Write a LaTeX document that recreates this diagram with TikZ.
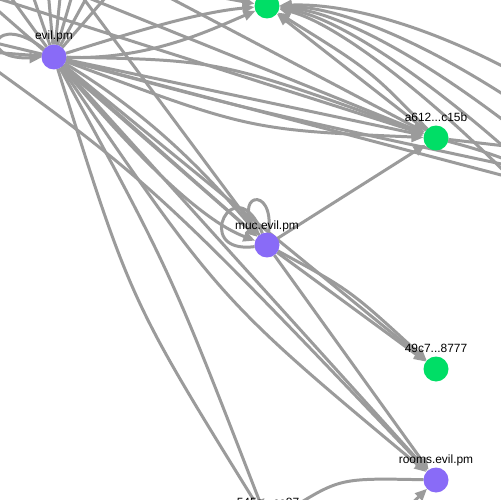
\documentclass[tikz,border=0pt]{standalone}
\usepackage{fontspec}
\setmainfont{Liberation Sans}
\usetikzlibrary{arrows.meta,backgrounds}
\definecolor{edgegray}{RGB}{155,155,155}
\definecolor{vpurple}{RGB}{137,107,247}
\definecolor{vgreen}{RGB}{0,222,102}
\begin{document}
\begin{tikzpicture}[x=0.02cm,y=-0.02cm,
  edge/.style={draw=edgegray,line width=1.7pt},
  arr/.style={edge,-{Triangle[length=0.24cm,width=0.2cm]}},
  vnode/.style={circle,minimum size=0.5cm,inner sep=0pt,outer sep=0pt},
  pnode/.style={vnode,fill=vpurple},
  gnode/.style={vnode,fill=vgreen},
  lbl/.style={font=\fontsize{6.8}{8}\selectfont,inner sep=0pt,anchor=base}]
\useasboundingbox (0,0) rectangle (500,500);
% nodes
\node[pnode] (E) at (54,57) {};
\node[gnode] (G) at (267,6) {};
\node[gnode] (A) at (436,138) {};
\node[pnode] (M) at (267,245) {};
\node[gnode] (B) at (436,369) {};
\node[pnode] (R) at (436,480) {};
\node[gnode] (S) at (268,523) {};
\node[lbl] (El) at (54,40) {evil.pm};
\node[lbl] (Al) at (436,121) {a612...c15b};
\node[lbl] (Ml) at (267,229) {muc.evil.pm};
\node[lbl] (Bl) at (436,352) {49c7...8777};
\node[lbl] (Rl) at (436,463) {rooms.evil.pm};
\node[lbl] (Sl) at (268,506) {545a...ce87};
% off-picture ends
\coordinate (t1) at (-60,-100);
\coordinate (t2) at (0,-100);
\coordinate (t3) at (40,-100);
\coordinate (t4) at (70,-100);
\coordinate (t5) at (100,-100);
\coordinate (t6) at (140,-100);
\coordinate (t7) at (190,-100);
\coordinate (l1) at (-100,20);
\coordinate (l2) at (-100,45);
\coordinate (xa) at (-60,-40);
\coordinate (xb) at (-60,30);
\coordinate (tm) at (40,-60);
\coordinate (ta1) at (60,-60);
\coordinate (ta2) at (-60,-62);
\coordinate (ta3) at (-60,-20);
\coordinate (tg1) at (100,-40);
\coordinate (r1) at (620,140);
\coordinate (r2) at (620,180);
\coordinate (r3) at (620,220);
\coordinate (r9) at (620,260);
\coordinate (r10) at (620,300);
\coordinate (r4) at (540,150);
\coordinate (r5) at (540,172);
\coordinate (r6) at (520,168);
\coordinate (r7) at (520,180);
\begin{scope}[on background layer]
\fill[white] (0,0) rectangle (500,500);
% edges to nodes outside, from evil.pm
\draw[edge] (E) -- (t1);
\draw[edge] (E) -- (t2);
\draw[edge] (E) -- (t3);
\draw[edge] (E) -- (t4);
\draw[edge] (E) -- (t5);
\draw[edge] (E) -- (t6);
\draw[edge] (E) -- (t7);
\draw[edge] (E) -- (l1);
\draw[edge] (E) -- (l2);
\draw[arr] (E) .. controls (-5,10) and (-25,60) .. (E);
% to top green
\draw[arr] (E) .. controls (140,30) and (200,12) .. (G);
\draw[arr] (E) .. controls (150,60) and (210,30) .. (G);
\draw[arr] (tg1) .. controls (180,-10) .. (G);
\draw[arr] (A) -- (G);
\draw[arr] (A) .. controls (370,70) .. (G);
\draw[arr] (r1) .. controls (500,50) and (370,2) .. (G);
\draw[arr] (r2) .. controls (500,80) and (365,8) .. (G);
\draw[arr] (r3) .. controls (500,105) and (360,14) .. (G);
\draw[arr] (r9) .. controls (500,130) and (355,20) .. (G);
\draw[arr] (r10) .. controls (500,150) and (350,26) .. (G);
% to a612
\draw[arr] (E) -- (A);
\draw[arr] (E) .. controls (220,60) .. (A);
\draw[arr] (E) .. controls (250,130) .. (A);
\draw[arr] (ta1) -- (A);
\draw[arr] (ta2) -- (A);
\draw[arr] (ta3) -- (A);
\draw[arr] (M) -- (A);
\draw[edge] (E) .. controls (250,110) .. (r6);
\draw[edge] (E) -- (r7);
\draw[edge] (A) -- (r4);
\draw[edge] (A) .. controls (480,150) .. (r5);
% to muc
\draw[arr] (E) -- (M);
\draw[arr] (E) .. controls (160,120) and (220,190) .. (M);
\draw[arr] (E) .. controls (130,150) and (200,220) .. (M);
\draw[arr] (xa) -- (M);
\draw[arr] (tm) -- (M);
\draw[edge] (M) .. controls (190,255) and (235,165) .. (M);
\draw[edge] (M) .. controls (228,195) and (275,182) .. (M);
% to 49c7
\draw[arr] (E) -- (B);
\draw[arr] (M) -- (B);
\draw[arr] (M) .. controls (350,290) .. (B);
% to rooms
\draw[arr] (M) -- (R);
\draw[arr] (E) -- (R);
\draw[arr] (E) .. controls (220,300) .. (R);
\draw[arr] (xb) .. controls (150,180) .. (R);
\draw[arr] (S) .. controls (390,525) .. (R);
\draw[arr] (R) .. controls (340,478) .. (S);
% to bottom node
\draw[arr] (E) .. controls (130,300) .. (S);
\draw[arr] (E) .. controls (170,270) .. (S);
\end{scope}
\end{tikzpicture}
\end{document}
